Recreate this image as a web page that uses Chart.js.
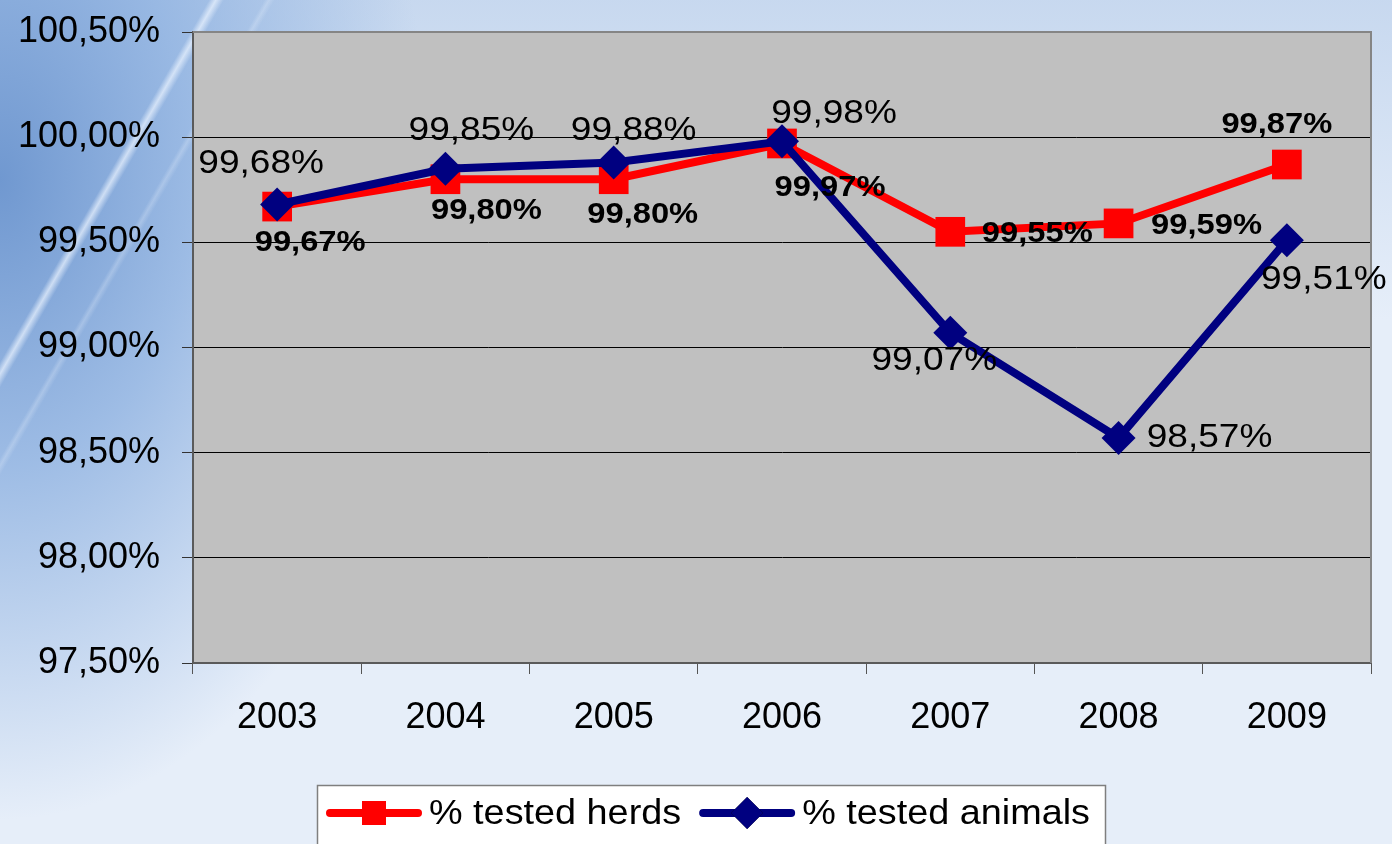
<!DOCTYPE html>
<html>
<head>
<meta charset="utf-8">
<script src="https://cdn.jsdelivr.net/npm/chart.js@4.4.1/dist/chart.umd.min.js"></script>
<style>
html, body { margin: 0; padding: 0; }
body {
  width: 1392px; height: 844px; overflow: hidden;
  background:
    linear-gradient(120deg, rgba(255,255,255,0) 0px, rgba(255,255,255,0) 181px, rgba(236,244,255,0.7) 187px, rgba(255,255,255,0) 194px),
    linear-gradient(120deg, rgba(255,255,255,0) 0px, rgba(255,255,255,0) 229px, rgba(240,246,255,0.25) 233px, rgba(255,255,255,0) 238px),
    radial-gradient(ellipse 430px 640px at 0px 180px, rgba(112,152,208,1) 0%, rgba(140,176,224,0.8) 45%, rgba(228,237,249,0) 100%),
    linear-gradient(to bottom, rgba(196,214,238,0.9) 0px, rgba(228,237,249,0) 320px),
    #e6eef9;
}
#wrap { width: 1392px; height: 844px; }
</style>
</head>
<body>
<div id="wrap"><canvas id="chart" width="1392" height="844"></canvas></div>
<script>
// values
const years = ['2003', '2004', '2005', '2006', '2007', '2008', '2009'];
const herds = [99.67, 99.80, 99.80, 99.97, 99.55, 99.59, 99.87];
const animals = [99.68, 99.85, 99.88, 99.98, 99.07, 98.57, 99.51];
const yTicks = [97.5, 98.0, 98.5, 99.0, 99.5, 100.0, 100.5];

// where each value label sits relative to its point (dx, dy)
const herdLabelPos = [[33, 36], [41, 32], [29, 36], [48, 44], [87, 2], [88, 2], [-10, -40]];
const animalLabelPos = [[-16, -41], [26, -38], [20, -32], [52, -28], [-16, 28], [91, 0], [37, 39]];

const FONT = '"Liberation Sans", Arial, sans-serif';
const TEXT_STRETCH = 1.09; // the original text is a little wider than Arial

function pct(v){
	return v.toFixed(2).replace('.', ',') + '%';
}

const plotFrame = {
	id: 'plotFrame',
	beforeDraw(chart){
		const {ctx, chartArea: a} = chart;
		ctx.save();
		ctx.fillStyle = '#c0c0c0';
		ctx.fillRect(a.left, a.top, a.width, a.height);
		ctx.restore();
	},
	beforeDatasetsDraw(chart){
		const {ctx, chartArea: a} = chart;
		ctx.save();
		ctx.strokeStyle = '#858585';
		ctx.lineWidth = 2;
		ctx.beginPath();
		ctx.moveTo(a.left, a.top);
		ctx.lineTo(a.right, a.top);
		ctx.lineTo(a.right, a.bottom);
		ctx.stroke();
		ctx.restore();
	}
};

const valueLabels = {
	id: 'valueLabels',
	afterDatasetsDraw(chart){
		const ctx = chart.ctx;
		ctx.save();
		ctx.fillStyle = '#000';
		ctx.textAlign = 'center';
		ctx.textBaseline = 'middle';
		chart.data.datasets.forEach((ds, i) => {
			const meta = chart.getDatasetMeta(i);
			ctx.font = ds.labelFont;
			meta.data.forEach((pt, j) => {
				const off = ds.labelPos[j];
				ctx.save();
				ctx.translate(pt.x + off[0], pt.y + off[1]);
				ctx.scale(TEXT_STRETCH, 1);
				ctx.fillText(pct(ds.data[j]), 0, 0);
				ctx.restore();
			});
		});
		ctx.restore();
	}
};

const boxLegend = {
	id: 'boxLegend',
	afterDraw(chart){
		const ctx = chart.ctx;
		const box = {left: 317, top: 785, width: 788, height: 80};
		const midY = 813;
		ctx.save();
		ctx.fillStyle = '#fff';
		ctx.fillRect(box.left, box.top, box.width, box.height);
		ctx.strokeStyle = '#7f7f7f';
		ctx.lineWidth = 1.5;
		ctx.strokeRect(box.left + 0.5, box.top + 0.5, box.width, box.height);

		ctx.font = '35px ' + FONT;
		ctx.textBaseline = 'middle';
		ctx.textAlign = 'left';
		let x = box.left + 13;
		[0, 1].forEach((i) => {
			const ds = chart.data.datasets[i];
			ctx.strokeStyle = ds.borderColor;
			ctx.lineWidth = 8;
			ctx.lineCap = 'round';
			ctx.beginPath();
			ctx.moveTo(x, midY);
			ctx.lineTo(x + 88, midY);
			ctx.stroke();
			Chart.helpers.drawPoint(ctx, {pointStyle: ds.pointStyle, radius: ds.legendRadius, borderWidth: 0}, x + 44, midY);
			ctx.fillStyle = ds.backgroundColor;
			ctx.fill();
			ctx.fillStyle = '#000';
			ctx.save();
			ctx.translate(x + 99, midY + 1);
			ctx.scale(1.08, 1);
			ctx.fillText(ds.label, 0, 0);
			ctx.restore();
			x += 99 + ctx.measureText(ds.label).width * 1.08 + 22;
		});
		ctx.restore();
	}
};

new Chart(document.getElementById('chart'), {
	type: 'line',
	data: {
		labels: years,
		datasets: [{
			label: '% tested herds',
			data: herds,
			borderColor: '#ff0000',
			backgroundColor: '#ff0000',
			borderWidth: 8,
			pointStyle: 'rect',
			pointRadius: 21,
			pointBorderWidth: 0,
			legendRadius: 17,
			labelFont: 'bold 30px ' + FONT,
			labelPos: herdLabelPos,
			tension: 0,
			order: 1
		}, {
			label: '% tested animals',
			data: animals,
			borderColor: '#000080',
			backgroundColor: '#000080',
			borderWidth: 8,
			pointStyle: 'rectRot',
			pointRadius: 17,
			pointBorderWidth: 0,
			legendRadius: 16,
			labelFont: '34px ' + FONT,
			labelPos: animalLabelPos,
			tension: 0,
			order: 0
		}]
	},
	options: {
		responsive: false,
		animation: false,
		devicePixelRatio: 1,
		layout: {padding: {top: 32, right: 20, bottom: 0, left: 0}},
		plugins: {
			legend: {display: false},
			tooltip: {enabled: false}
		},
		scales: {
			x: {
				offset: true,
				grid: {display: true, drawOnChartArea: false, offset: true, tickLength: 11, color: '#555'},
				border: {color: '#5a5a5a', width: 2},
				ticks: {color: '#000', font: {family: FONT, size: 36}, padding: 22, maxRotation: 0},
				afterFit(s){ s.height = 181; }
			},
			y: {
				min: yTicks[0],
				max: yTicks[yTicks.length - 1],
				grid: {color: '#000', lineWidth: 1, tickLength: 11, tickColor: '#333'},
				border: {color: '#5a5a5a', width: 2},
				ticks: {
					stepSize: yTicks[1] - yTicks[0],
					color: '#000',
					font: {family: FONT, size: 36},
					padding: 22,
					callback: (v) => pct(v)
				},
				afterFit(s){ s.width = 193; s.paddingTop = 0; s.paddingBottom = 0; }
			}
		}
	},
	plugins: [plotFrame, valueLabels, boxLegend]
});
</script>
</body>
</html>
